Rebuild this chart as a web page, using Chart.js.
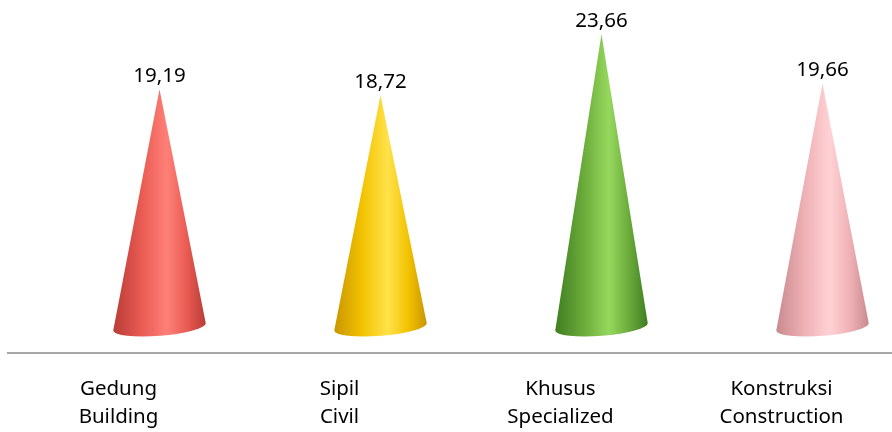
<!DOCTYPE html>
<html>
<head>
<meta charset="utf-8">
<script src="https://cdn.jsdelivr.net/npm/chart.js@4"></script>
<style>
  html, body { margin: 0; padding: 0; background: #fff; }
  #wrap { width: 892px; height: 432px; position: relative; }
</style>
</head>
<body>
<div id="wrap"><canvas id="chart"></canvas></div>
<script>
// ---- data ----
const categories = [
    ['Gedung', 'Building'],
    ['Sipil', 'Civil'],
    ['Khusus', 'Specialized'],
    ['Konstruksi', 'Construction']
];
const values = [19.19, 18.72, 23.66, 19.66];

// cone shading: [dark edge, body, highlight]
const coneColors = [
    ['#b83c36', '#e85a52', '#ff8078'],
    ['#c99500', '#f2c200', '#ffe24a'],
    ['#3f7d22', '#6aaa3a', '#96d85e'],
    ['#c98a8e', '#eeb0b4', '#ffd2d5']
];

const FONT = '"Noto Sans", "Open Sans", sans-serif';

// draws each bar as a 3D-ish cone, shifted right for the perspective look
const conePlugin = {
    id: 'cones',
    afterDatasetsDraw(chart) {
        const ctx = chart.ctx;
        const meta = chart.getDatasetMeta(0);
        const shift = 41;
        meta.data.forEach((bar, i) => {
            const cx = bar.x + shift;
            const apexY = bar.y;
            const baseY = bar.base;
            const rx = bar.width / 2;
            const ry = 9;
            const rot = -0.08;
            const c = coneColors[i];

            const lx = cx - rx * Math.cos(rot), ly = baseY - rx * Math.sin(rot);

            ctx.save();
            const g = ctx.createLinearGradient(cx - rx, 0, cx + rx, 0);
            g.addColorStop(0, c[0]);
            g.addColorStop(0.3, c[1]);
            g.addColorStop(0.58, c[2]);
            g.addColorStop(0.8, c[1]);
            g.addColorStop(1, c[0]);
            ctx.fillStyle = g;
            ctx.beginPath();
            ctx.moveTo(cx, apexY);
            ctx.lineTo(lx, ly);
            ctx.ellipse(cx, baseY, rx, ry, rot, Math.PI, 0, true);
            ctx.lineTo(cx, apexY);
            ctx.closePath();
            ctx.fill();

            // value label
            ctx.fillStyle = '#000';
            ctx.font = '20.5px ' + FONT;
            ctx.textAlign = 'center';
            ctx.textBaseline = 'bottom';
            ctx.fillText(values[i].toFixed(2).replace('.', ','), cx, apexY - 3);
            ctx.restore();
        });
    }
};

new Chart(document.getElementById('chart'), {
    type: 'bar',
    data: {
        labels: categories,
        datasets: [{
            data: values,
            backgroundColor: 'rgba(0,0,0,0)',
            barPercentage: 0.6,
            categoryPercentage: 0.7
        }]
    },
    options: {
        responsive: true,
        maintainAspectRatio: false,
        animation: false,
        layout: { padding: { left: 8, right: 0, top: 10, bottom: -21 } },
        plugins: {
            legend: { display: false },
            tooltip: { enabled: false }
        },
        scales: {
            x: {
                grid: { display: false, drawTicks: false },
                border: { display: true, color: '#a6a6a6', width: 2 },
                ticks: {
                    color: '#000',
                    padding: 22,
                    font: { family: FONT, size: 20.5, lineHeight: 1.37 }
                }
            },
            y: {
                display: false,
                min: -2.1,
                max: 25.6
            }
        }
    },
    plugins: [conePlugin]
});
</script>
</body>
</html>
